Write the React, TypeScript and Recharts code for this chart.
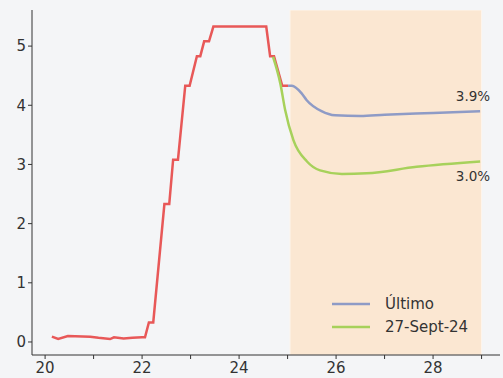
import { LineChart, Line, XAxis, YAxis, ReferenceArea } from "recharts";

const histYears = [20.14, 20.27, 20.47, 20.93, 21.1, 21.34, 21.42, 21.62, 21.8, 22.0, 22.06, 22.14, 22.23, 22.46, 22.56, 22.64, 22.74, 22.89, 22.98, 23.13, 23.2, 23.28, 23.38, 23.47, 24.56, 24.64, 24.72, 24.89, 25.01];
const histRates = [0.09, 0.05, 0.1, 0.09, 0.07, 0.05, 0.08, 0.06, 0.07, 0.08, 0.08, 0.33, 0.33, 2.33, 2.33, 3.08, 3.08, 4.33, 4.33, 4.83, 4.83, 5.08, 5.08, 5.33, 5.33, 4.83, 4.83, 4.33, 4.33];

const lastYears = [25.01, 25.09, 25.29, 25.39, 25.7, 25.98, 26.5, 27.0, 28.0, 28.97];
const lastRates = [4.33, 4.33, 4.2, 4.09, 3.9, 3.83, 3.82, 3.84, 3.87, 3.9];

const septYears = [24.7, 24.85, 24.95, 25.12, 25.4, 25.67, 26.12, 26.63, 27.66, 28.97];
const septRates = [4.82, 4.37, 3.92, 3.41, 3.05, 2.9, 2.84, 2.85, 2.96, 3.05];

const xTicks = [20, 21, 22, 23, 24, 25, 26, 27, 28, 29];
const yTicks = [0, 1, 2, 3, 4, 5];

const seriesNames = ["Último", "27-Sept-24"];
const seriesColors = ["#8e9bc6", "#a7d15b"];

const histData = histYears.map((x, i) => ({ x, v: histRates[i] }));
const lastData = lastYears.map((x, i) => ({ x, v: lastRates[i] }));
const septData = septYears.map((x, i) => ({ x, v: septRates[i] }));

const FONT = "'DejaVu Sans', sans-serif";

const endLabel = (len: number, text: string, dy: number) => (props: any) => {
  if (props.index !== len - 1) return null;
  return (
    <text x={props.x + 10} y={props.y + dy} textAnchor="end" fontSize={13.5} fill="#333" fontFamily={FONT}>
      {text}
    </text>
  );
};

export default function App() {
  return (
    <div style={{ position: "fixed", left: 0, top: 0, width: 503, height: 378, background: "#f4f5f7" }}>
      <LineChart width={503} height={378} margin={{ top: 10, right: 3, bottom: 0, left: 0 }}>
        <ReferenceArea x1={25.05} x2={29.0} fill="#fbe7d2" fillOpacity={1} stroke="#fdf5ec" strokeWidth={1} ifOverflow="hidden" />
        <XAxis
          type="number"
          dataKey="x"
          domain={[19.73, 29.38]}
          ticks={xTicks}
          tickFormatter={(v) => (v % 2 === 0 ? String(v) : "")}
          allowDataOverflow
          height={23}
          tickSize={4}
          stroke="#333"
          tick={{ fill: "#333", fontSize: 15, fontFamily: FONT, dy: 1 }}
        />
        <YAxis
          type="number"
          domain={[-0.22, 5.61]}
          ticks={yTicks}
          allowDataOverflow
          width={32}
          tickSize={4}
          stroke="#333"
          tick={{ fill: "#333", fontSize: 15, fontFamily: FONT }}
        />
        <Line data={histData} dataKey="v" name="hist" type="linear" stroke="#e85858" strokeWidth={2.5} dot={false} isAnimationActive={false} />
        <Line data={lastData} dataKey="v" name={seriesNames[0]} type="monotone" stroke={seriesColors[0]} strokeWidth={2.5} dot={false} isAnimationActive={false} label={endLabel(lastData.length, "3.9%", -10)} />
        <Line data={septData} dataKey="v" name={seriesNames[1]} type="monotone" stroke={seriesColors[1]} strokeWidth={2.5} dot={false} isAnimationActive={false} label={endLabel(septData.length, "3.0%", 20)} />
      </LineChart>
      <div style={{ position: "absolute", left: 332, top: 292, fontFamily: FONT, fontSize: 15, color: "#333" }}>
        {seriesNames.map((n, i) => (
          <div key={n} style={{ display: "flex", alignItems: "center", height: 23 }}>
            <svg width={53} height={10}>
              <line x1={0} y1={5} x2={38} y2={5} stroke={seriesColors[i]} strokeWidth={2.5} />
            </svg>
            <span>{n}</span>
          </div>
        ))}
      </div>
    </div>
  );
}
